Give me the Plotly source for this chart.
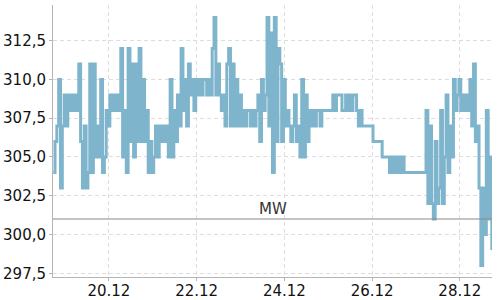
import plotly.graph_objects as go
import pandas as pd

# hourly values, starting 18.12 17:30
start = "2023-12-18 17:30"
values = [
    304, 306, 307, 310, 303, 307, 309, 307, 309, 308,
    309, 308, 309, 308, 311, 306, 303, 307, 303, 304,
    311, 304, 311, 305, 307, 305, 310, 304, 305, 308,
    307, 309, 308, 309, 308, 309, 308, 312, 305, 308,
    304, 312, 306, 311, 305, 311, 306, 312, 306, 310,
    306, 308, 304, 306, 304, 305, 307, 305, 307, 306,
    307, 306, 307, 305, 310, 305, 308, 306, 309, 307,
    312, 308, 310, 307, 311, 309, 310, 308, 310, 309,
    310, 309, 310, 310, 309, 310, 309, 312, 314, 309,
    311, 309, 308, 309, 307, 311, 312, 307, 311, 307,
    310, 307, 309, 307, 308, 307, 308, 308, 307, 308,
    307, 308, 309, 306, 310, 308, 309, 314, 307, 313,
    304, 314, 306, 312, 311, 306, 310, 307, 308, 307,
    306, 307, 309, 306, 307, 305, 310, 305, 309, 306,
    308, 307, 308, 307, 308, 308, 307, 308, 308, 308,
    308, 308, 308, 309, 308, 309, 309, 309, 308, 308,
    309, 308, 309, 308, 309, 309, 308, 307, 308, 307,
    307, 307, 307, 307, 307, 306, 306, 306, 306, 306,
    305, 305, 305, 305, 304, 305, 304, 305, 304, 305,
    304, 305, 304, 304, 304, 304, 304, 304, 304, 304,
    304, 304, 304, 304, 308, 302, 307, 302, 301, 306,
    302, 303, 308, 302, 305, 309, 304, 307, 305, 310,
    308, 309, 310, 308, 309, 308, 309, 308, 310, 307,
    311, 306, 307, 303, 298, 303, 300, 308, 301, 305,
    299,
]
mean_value = 301.0
mean_label = "MW"

times = pd.date_range(start=start, periods=len(values), freq="h")

fig = go.Figure()
fig.add_trace(go.Scatter(
    x=times, y=values, mode="lines",
    line=dict(color="#7fb5cc", width=3, shape="hv"),
    showlegend=False, hoverinfo="skip",
))

fig.add_shape(type="line", xref="paper", x0=0, x1=1, yref="y",
              y0=mean_value, y1=mean_value,
              line=dict(color="#8a8a8a", width=1), layer="above")
fig.add_annotation(x="2023-12-23 17:30", y=mean_value, xref="x", yref="y",
                   text=mean_label, showarrow=False, yanchor="bottom",
                   yshift=-1, font=dict(family="DejaVu Sans", size=15, color="#333333"))

fig.update_layout(
    width=500, height=300,
    margin=dict(l=53, r=8, t=5, b=23),
    paper_bgcolor="white", plot_bgcolor="white",
    separators=",.",
    font=dict(family="DejaVu Sans", size=15, color="#111111"),
)
fig.update_xaxes(
    range=["2023-12-18 17:24", "2023-12-28 17:36"],
    tickformat="%d.%m", dtick=2 * 86400000, tick0="2023-12-20",
    showgrid=True, gridcolor="#dddddd", griddash="4px,3px", gridwidth=1,
    showline=True, linecolor="#b5b5b5", linewidth=1,
    ticks="outside", ticklen=3, tickcolor="#b5b5b5",
    ticklabelstandoff=-3,
    zeroline=False, automargin=False,
)
fig.update_yaxes(
    range=[297.26, 314.8],
    tickformat=".1f", dtick=2.5, tick0=0,
    showgrid=True, gridcolor="#dddddd", griddash="4px,3px", gridwidth=1,
    showline=True, linecolor="#b5b5b5", linewidth=1,
    ticks="outside", ticklen=3, tickcolor="#b5b5b5",
    zeroline=False, automargin=False,
)

fig.write_html("out.html")
